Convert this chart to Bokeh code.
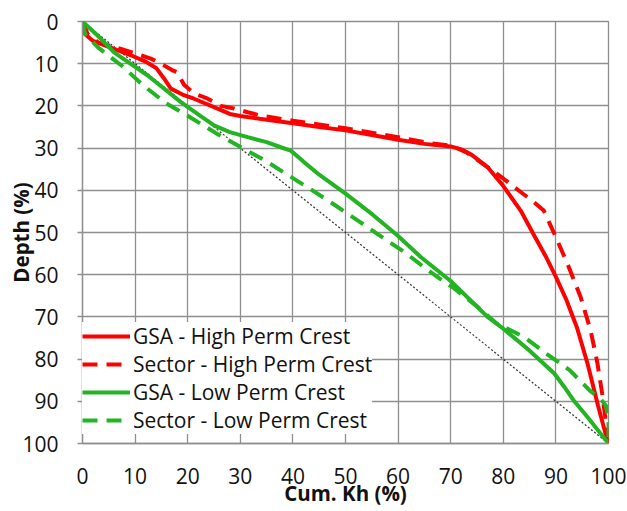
from bokeh.plotting import figure
from bokeh.models import Range1d, FixedTicker, Legend, LegendItem
from bokeh.embed import file_html
from bokeh.resources import INLINE

# ---- data (Cum. Kh %, Depth %) ----
gsa_high_x = [0, 0.5, 2, 3.5, 6, 9.2, 12, 14, 15.5, 16.8, 19, 21.2, 25, 28, 30, 35, 40, 45, 50, 55, 60, 65, 70, 72, 74, 77, 80, 83.3, 86, 88, 90, 92, 94, 96, 98, 99.5, 100]
gsa_high_y = [0, 3, 4.6, 5.3, 6.5, 8, 9.5, 11, 13.5, 15.9, 17.3, 18.3, 20.3, 21.9, 22.4, 23.3, 24.1, 25.0, 25.8, 26.9, 28.0, 29.0, 29.6, 30.3, 31.6, 34.5, 39, 44.8, 51, 55.5, 60.5, 66, 72.5, 81, 91, 98, 100]

sec_high_x = [0, 1, 3, 7.3, 11, 13, 15.5, 17, 18, 19.3, 21.2, 23.8, 26.3, 28.8, 31.4, 33.9, 40, 50, 60, 66, 70, 73, 77.9, 80, 83.3, 86, 87.7, 89.7, 92.2, 94.7, 96.6, 97.9, 98.9, 99.5, 100]
sec_high_y = [0, 3, 5, 6.5, 8, 8.8, 10.4, 11.5, 12, 15, 17, 18.3, 20, 20.6, 21.5, 22.3, 23.5, 25.3, 27.4, 28.8, 29.4, 31, 35.3, 37.2, 40.4, 43, 44.8, 50.3, 57.4, 65.3, 73.2, 81, 89, 95, 100]

gsa_low_x = [0, 3, 6, 12.4, 18.7, 22, 25, 28, 31.4, 35, 37.7, 39.6, 42, 45, 50, 55, 59.9, 64.3, 70, 77, 80, 85, 89.7, 91.6, 93.5, 96, 100]
gsa_low_y = [0, 3.5, 7.3, 12.8, 19.1, 22, 24.6, 26.2, 27.4, 28.6, 29.8, 30.6, 33.2, 36.3, 40.8, 45.6, 50.7, 55.8, 61.5, 70, 72.8, 78, 83.4, 86.6, 90, 93.7, 100]

sec_low_x = [0, 0.5, 3, 7.6, 11.4, 15.8, 20.6, 25.3, 30.4, 34.8, 39.2, 43.7, 48.1, 52.5, 57.1, 61.6, 65.5, 68, 70.6, 75, 78.8, 83.9, 88.3, 92.6, 96.4, 98.5, 99.5, 100, 100]
sec_low_y = [0, 3, 6.2, 10.6, 15, 19.3, 22.8, 26.4, 30, 33, 36.5, 40, 43.6, 47.3, 51.2, 55, 58.8, 61, 63.2, 67.5, 71.6, 74.7, 78.8, 82.6, 87.4, 89.5, 91, 94, 100]

diag_x = [0, 100]
diag_y = [0, 100]

ticks = [0, 10, 20, 30, 40, 50, 60, 70, 80, 90, 100]

series_labels = ["GSA - High Perm Crest", "Sector - High Perm Crest",
                 "GSA - Low Perm Crest", "Sector - Low Perm Crest"]

RED = "#FF0000"
GREEN = "#22B422"
GRID = "#8f8f8f"
FONT = "Open Sans"

p = figure(width=627, height=511, output_backend="svg", toolbar_location=None,
           x_range=Range1d(0, 100), y_range=Range1d(100, 0))
p.min_border_left = 82
p.min_border_right = 19
p.min_border_top = 21
p.min_border_bottom = 68
p.background_fill_color = "white"
p.border_fill_color = "white"
p.outline_line_color = GRID
p.outline_line_width = 1.3

for ax in (p.xaxis[0], p.yaxis[0]):
    ax.ticker = FixedTicker(ticks=ticks)
    ax.axis_line_color = GRID
    ax.axis_line_width = 1.3
    ax.major_tick_line_color = GRID
    ax.major_tick_line_width = 1.3
    ax.minor_tick_line_color = None
    ax.major_tick_in = 0
    ax.major_label_text_font = FONT
    ax.major_label_text_font_size = "21px"
    ax.major_label_text_color = "#111111"
    ax.axis_label_text_font = FONT
    ax.axis_label_text_font_size = "20.5px"
    ax.axis_label_text_font_style = "bold"
    ax.axis_label_text_color = "#111111"

p.xaxis.major_tick_out = 0
p.xaxis.major_label_standoff = 24
p.xaxis.major_label_text_line_height = 0.8
p.xaxis.axis_label = "Cum. Kh (%)"
p.xaxis.axis_label_standoff = -8
p.xaxis.axis_label_text_line_height = 0.8

p.yaxis.major_tick_out = 5
p.yaxis.major_label_standoff = 19
p.yaxis.axis_label = "Depth (%)"
p.yaxis.axis_label_standoff = -16

p.xgrid.ticker = FixedTicker(ticks=ticks)
p.ygrid.ticker = FixedTicker(ticks=ticks)
p.grid.grid_line_color = GRID
p.grid.grid_line_width = 1.3

p.line(diag_x, diag_y, line_color="#333333", line_width=1.2, line_dash="2 2")

r1 = p.line(gsa_high_x, gsa_high_y, line_color=RED, line_width=4)
r2 = p.line(sec_high_x, sec_high_y, line_color=RED, line_width=4, line_dash="15 9")
r3 = p.line(gsa_low_x, gsa_low_y, line_color=GREEN, line_width=4)
r4 = p.line(sec_low_x, sec_low_y, line_color=GREEN, line_width=4, line_dash="15 9")

legend = Legend(items=[LegendItem(label=series_labels[i], renderers=[r])
                       for i, r in enumerate([r1, r2, r3, r4])],
                location=(0, 9))
legend.border_line_color = None
legend.background_fill_color = "white"
legend.background_fill_alpha = 1
legend.label_text_font = FONT
legend.label_text_font_size = "21px"
legend.label_text_color = "#111111"
legend.glyph_width = 48
legend.glyph_height = 20
legend.label_height = 20
legend.spacing = 0
legend.padding = 6
legend.margin = 0
legend.label_standoff = 3
p.add_layout(legend, "center")

open("out.html", "w").write(file_html(p, INLINE))
